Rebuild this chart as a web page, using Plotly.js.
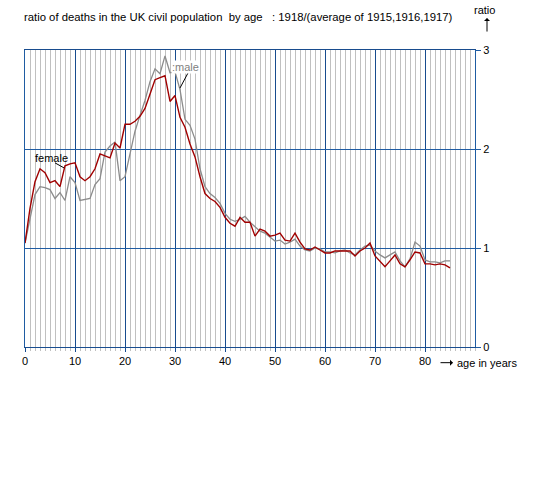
<!DOCTYPE html>
<html>
<head>
<meta charset="utf-8">
<script src="https://cdn.plot.ly/plotly-3.0.1.min.js"></script>
<style>html,body{margin:0;padding:0;background:#fff;}#chart{width:560px;height:480px;}</style>
</head>
<body>
<div id="chart"></div>
<script>
var ages = [];
for (var i = 0; i <= 85; i++) ages.push(i);

var female = [1.05,1.40,1.67,1.80,1.76,1.66,1.68,1.62,1.83,1.85,
  1.86,1.72,1.68,1.72,1.80,1.95,1.93,1.91,2.06,2.01,
  2.25,2.25,2.28,2.33,2.41,2.56,2.70,2.72,2.74,2.48,
  2.54,2.32,2.22,2.05,1.92,1.72,1.55,1.50,1.47,1.41,
  1.31,1.25,1.22,1.31,1.26,1.26,1.12,1.19,1.17,1.12,
  1.13,1.15,1.08,1.07,1.15,1.06,0.99,0.98,1.01,0.98,
  0.95,0.95,0.97,0.97,0.97,0.97,0.92,0.97,1.00,1.05,
  0.92,0.86,0.81,0.87,0.93,0.84,0.81,0.88,0.96,0.95,
  0.84,0.84,0.83,0.84,0.83,0.80];

var male = [1.05,1.30,1.54,1.62,1.61,1.59,1.50,1.56,1.48,1.72,
  1.66,1.48,1.49,1.50,1.64,1.70,1.97,2.03,2.07,1.68,
  1.72,1.96,2.18,2.34,2.49,2.68,2.81,2.76,2.94,2.77,
  2.78,2.60,2.30,2.24,2.10,1.80,1.62,1.55,1.51,1.45,
  1.35,1.29,1.27,1.29,1.32,1.26,1.21,1.17,1.15,1.11,
  1.07,1.08,1.04,1.06,1.09,1.02,0.98,0.97,1.00,0.99,
  0.96,0.96,0.95,0.97,0.98,0.95,0.93,0.98,1.02,1.03,
  0.97,0.93,0.90,0.93,0.96,0.87,0.81,0.89,1.06,1.02,
  0.88,0.86,0.86,0.85,0.87,0.87];

var xTicks = [0,10,20,30,40,50,60,70,80];
var xTickLabels = ['0','10','20','30','40','50','60','70','80'];
var yTicks = [0,1,2,3];
var yTickLabels = ['0','1','2','3'];

var titleText = 'ratio of deaths in the UK civil population \u00a0by age \u00a0 : 1918/(average of 1915,1916,1917)';

// pixel -> paper helpers (plot area 25..475 x, 50..347 y)
function PX(x){ return (x - 25) / 450; }
function PY(y){ return (347.3 - y) / 297.3; }

var FONT = 'Liberation Sans, Arial, sans-serif';
var BLUE_V = '#184c8e';
var BLUE_H = '#1f5ca2';

var traces = [
  {x: ages, y: male, type: 'scatter', mode: 'lines', line: {color: '#8c8c8c', width: 1.3}, name: 'male'},
  {x: ages, y: female, type: 'scatter', mode: 'lines', line: {color: '#a00000', width: 1.4}, name: 'female'}
];

var layout = {
  width: 560, height: 480,
  margin: {l: 25, r: 85, t: 50, b: 133, pad: 0},
  paper_bgcolor: '#ffffff', plot_bgcolor: '#ffffff',
  showlegend: false, hovermode: false,
  font: {family: FONT, size: 11, color: '#000'},
  xaxis: {
    range: [0, 90], tickmode: 'array', tickvals: xTicks, ticktext: xTickLabels,
    showgrid: true, gridcolor: BLUE_V, gridwidth: 1,
    ticks: 'outside', ticklen: 4, tickcolor: BLUE_V, tickwidth: 1,
    showline: true, linecolor: BLUE_V, linewidth: 1, mirror: true,
    zeroline: false, fixedrange: true,
    tickfont: {family: FONT, size: 11, color: '#000'},
    minor: {tickmode: 'linear', tick0: 0, dtick: 1, showgrid: true, gridcolor: '#c0c0c0', gridwidth: 1,
            ticks: 'outside', ticklen: 3, tickcolor: '#c0c0c0'}
  },
  yaxis: {
    range: [0, 3], side: 'right', tickmode: 'array', tickvals: yTicks, ticktext: yTickLabels,
    showgrid: true, gridcolor: BLUE_H, gridwidth: 1,
    ticks: 'outside', ticklen: 5, tickcolor: BLUE_H, tickwidth: 1,
    showline: true, linecolor: BLUE_H, linewidth: 1, mirror: true,
    zeroline: false, fixedrange: true,
    tickfont: {family: FONT, size: 11, color: '#000'}
  },
  shapes: [
    {type: 'rect', xref: 'paper', yref: 'paper', x0: PX(37), x1: PX(82), y0: PY(217), y1: PY(202),
     fillcolor: '#ffffff', line: {width: 0}, layer: 'between'},
    {type: 'line', xref: 'paper', yref: 'paper', x0: PX(55), y0: PY(163), x1: PX(64), y1: PY(168),
     line: {color: '#000', width: 1}},
    {type: 'line', xref: 'paper', yref: 'paper', x0: PX(188), y0: PY(73), x1: PX(180), y1: PY(88),
     line: {color: '#000', width: 1}}
  ],
  annotations: [
    {text: titleText, xref: 'paper', yref: 'paper', x: PX(22), y: PY(17), xanchor: 'left', yanchor: 'middle',
     showarrow: false, font: {family: FONT, size: 11.3, color: '#000'}},
    {text: 'ratio', xref: 'paper', yref: 'paper', x: PX(484), y: PY(10), xanchor: 'center', yanchor: 'middle',
     showarrow: false, font: {family: FONT, size: 11, color: '#000'}},
    {text: '', xref: 'paper', yref: 'paper', x: PX(487), y: PY(18), ax: 0, ay: 15,
     showarrow: true, arrowhead: 1, arrowsize: 1, arrowwidth: 1, arrowcolor: '#000'},
    {text: '', xref: 'paper', yref: 'paper', x: PX(453), y: PY(363), ax: -14, ay: 0,
     showarrow: true, arrowhead: 1, arrowsize: 1, arrowwidth: 1, arrowcolor: '#000'},
    {text: 'age in years', xref: 'paper', yref: 'paper', x: PX(455), y: PY(363), xanchor: 'left', yanchor: 'middle',
     showarrow: false, font: {family: FONT, size: 11, color: '#000'}},
    {text: 'female', xref: 'paper', yref: 'paper', x: PX(33), y: PY(158), xanchor: 'left', yanchor: 'middle',
     showarrow: false, font: {family: FONT, size: 11, color: '#000'}},
    {text: ':male', xref: 'paper', yref: 'paper', x: PX(171), y: PY(67), xanchor: 'left', yanchor: 'middle',
     showarrow: false, bgcolor: '#ffffff', borderpad: 0, font: {family: FONT, size: 11, color: '#808080'}}
  ]
};

Plotly.newPlot('chart', traces, layout, {staticPlot: true, displayModeBar: false});
</script>
</body>
</html>
